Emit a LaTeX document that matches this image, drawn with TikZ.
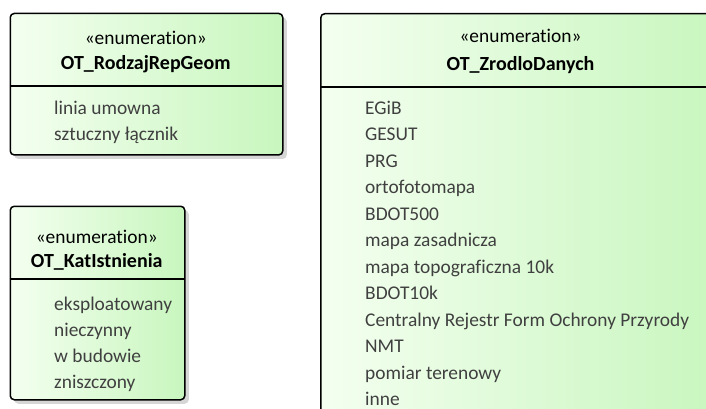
\documentclass[tikz,border=0pt]{standalone}
\usepackage{fontspec}
\setmainfont{Carlito}[Ligatures={NoCommon}]
\usetikzlibrary{shadows}
\definecolor{gleft}{RGB}{244,255,240}
\definecolor{gright}{RGB}{200,246,190}
\definecolor{itemgray}{RGB}{64,64,64}
\definecolor{shadowgray}{RGB}{214,214,214}
\tikzset{
  enumbox/.style={draw=black, line width=1.5pt, rounded corners=4pt,
    left color=gleft, right color=gright, anchor=north west, inner sep=0pt,
    drop shadow={shadow xshift=4pt, shadow yshift=-4pt, fill=shadowgray, opacity=1}},
  divider/.style={draw=black, line width=1.5pt},
  stereo/.style={anchor=base, font=\fontsize{19.4}{22}\selectfont, text=black, inner sep=0pt},
  cname/.style={anchor=base, font=\fontsize{20}{22}\selectfont\bfseries, text=black, inner sep=0pt},
  item/.style={anchor=base west, font=\fontsize{19.4}{22}\selectfont, text=itemgray, inner sep=0pt}
}
\begin{document}
\begin{tikzpicture}[x=1pt,y=-1pt]
\useasboundingbox (0,0) rectangle (706,409);
\begin{scope}
\clip (0,0) rectangle (706,409);
% Box 1
\node[enumbox, minimum width=272.5pt, minimum height=141.5pt] (b1) at (9.5,12.7) {};
\coordinate (b1l) at (9.5,86);
\coordinate (b1r) at (282,86);
\draw[divider] (b1l) -- (b1r);
\node[stereo] (b1s) at (145.75,44.5) {«enumeration»};
\node[cname] (b1n) at (145.75,70) {OT\_RodzajRepGeom};
\node[item] (b1i1) at (54,114) {linia umowna};
\node[item] (b1i2) at (54,140) {sztuczny łącznik};
% Box 2
\node[enumbox, minimum width=174.5pt, minimum height=193.5pt] (b2) at (9.5,205.5) {};
\coordinate (b2l) at (9.5,279);
\coordinate (b2r) at (184,279);
\draw[divider] (b2l) -- (b2r);
\node[stereo] (b2s) at (96.75,243) {«enumeration»};
\node[cname] (b2n) at (96.75,267) {OT\_KatIstnienia};
\node[item] (b2i1) at (54,310) {eksploatowany};
\node[item] (b2i2) at (54,336) {nieczynny};
\node[item] (b2i3) at (54,362) {w budowie};
\node[item] (b2i4) at (54,388) {zniszczony};
% Box 3
\node[enumbox, minimum width=401pt, minimum height=430pt] (b3) at (320,13) {};
\coordinate (b3l) at (320,87);
\coordinate (b3r) at (721,87);
\draw[divider] (b3l) -- (b3r);
\node[stereo] (b3s) at (520.5,43) {«enumeration»};
\node[cname] (b3n) at (520.5,71) {OT\_ZrodloDanych};
\foreach \t [count=\i from 0] in {EGiB,GESUT,PRG,ortofotomapa,BDOT500,mapa zasadnicza,mapa topograficzna 10k,BDOT10k,Centralny Rejestr Form Ochrony Przyrody,NMT,pomiar terenowy,inne}
  \node[item] (b3i\i) at (365,114+26.5*\i) {\t};
\end{scope}
\end{tikzpicture}
\end{document}
